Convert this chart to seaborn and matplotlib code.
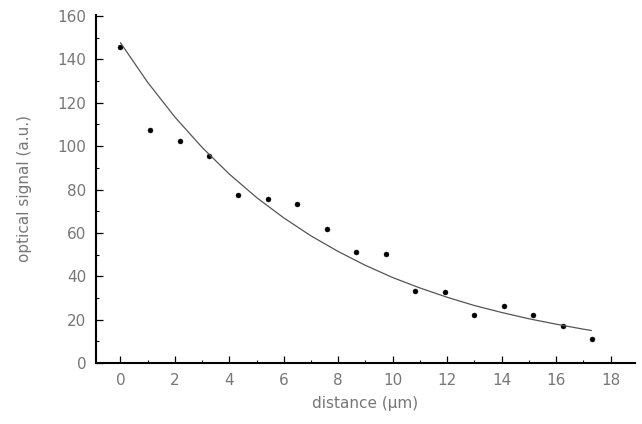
import numpy as np
import pandas as pd
import matplotlib
matplotlib.use("Agg")
import matplotlib.pyplot as plt
from matplotlib.ticker import MultipleLocator
import seaborn as sns

# -----------------------------
# data
# -----------------------------
distance = [0.0, 1.08, 2.17, 3.25, 4.33, 5.41, 6.5, 7.58, 8.66,
            9.75, 10.83, 11.91, 13.0, 14.08, 15.16, 16.24, 17.32]
signal = [145.6, 107.4, 102.4, 95.5, 77.7, 75.4, 73.1, 62.0, 51.0,
          50.1, 33.1, 32.6, 22.1, 26.1, 21.9, 16.9, 10.9]

# fitted decay curve, sampled along the drawn line
fit_x = [0, 1, 2, 3, 4, 5, 6, 7, 8, 9, 10, 11, 12, 13, 14, 15, 16, 17, 17.3]
fit_y = [147.7, 129.4, 113.4, 99.4, 87.1, 76.3, 66.9, 58.6, 51.4, 45.0,
         39.4, 34.6, 30.3, 26.5, 23.3, 20.4, 17.9, 15.6, 15.0]

x_ticks = [0, 2, 4, 6, 8, 10, 12, 14, 16, 18]
y_ticks = [0, 20, 40, 60, 80, 100, 120, 140, 160]

points = pd.DataFrame({"distance": distance, "signal": signal})
fit = pd.DataFrame({"distance": fit_x, "signal": fit_y})

# -----------------------------
# style
# -----------------------------
sns.set_style("ticks")
plt.rcParams["font.family"] = ["DejaVu Sans"]

fig = plt.figure(figsize=(6.42, 4.24), dpi=100)
ax = fig.add_axes([0.1495, 0.1439, 0.8396, 0.8208])

sns.lineplot(data=fit, x="distance", y="signal", ax=ax,
             color="#555555", linewidth=0.9, sort=False)
sns.scatterplot(data=points, x="distance", y="signal", ax=ax,
                color="black", s=13, edgecolor="black", linewidth=0.3)

ax.set_xlim(-0.9, 18.9)
ax.set_ylim(0, 160.5)
ax.set_xticks(x_ticks)
ax.set_yticks(y_ticks)
ax.xaxis.set_minor_locator(MultipleLocator(1))
ax.yaxis.set_minor_locator(MultipleLocator(10))

sns.despine(ax=ax)
for side in ["left", "bottom"]:
    ax.spines[side].set_linewidth(1.5)
    ax.spines[side].set_color("black")

ax.tick_params(which="major", direction="in", length=5, width=0.9,
               color="black", labelsize=11, labelcolor="#777777", pad=7)
ax.tick_params(which="minor", direction="in", length=2.5, width=0.8,
               color="black")

ax.set_xlabel("distance (μm)", fontsize=11, color="#777777", labelpad=6)
ax.set_ylabel("optical signal (a.u.)", fontsize=11, color="#777777")
ax.yaxis.set_label_coords(-0.118, 0.5)

fig.savefig("out.png", dpi=100)
